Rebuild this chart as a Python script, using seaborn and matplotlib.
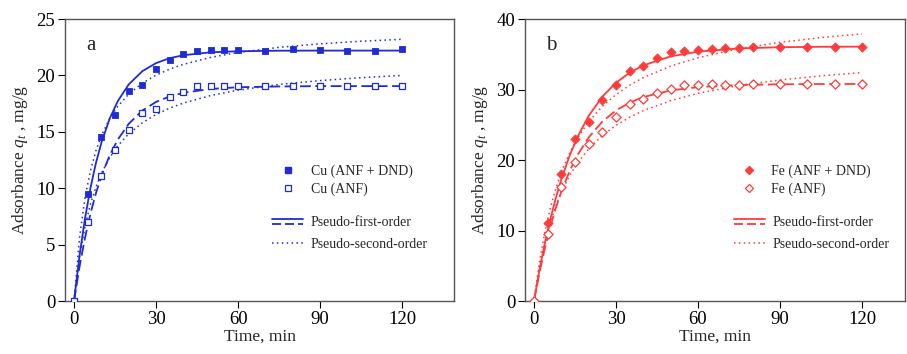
import numpy as np
import pandas as pd
import matplotlib
matplotlib.use("Agg")
import matplotlib.pyplot as plt
import seaborn as sns
from matplotlib.lines import Line2D
from matplotlib.legend_handler import HandlerBase

# ---------------- data ----------------
# experimental points, panel a (Cu)
time_a = [0, 5, 10, 15, 20, 25, 30, 35, 40, 45, 50, 55, 60, 70, 80, 90, 100, 110, 120]
cu_anf_dnd = [0, 9.46, 14.57, 16.49, 18.65, 19.12, 20.54, 21.40, 21.87, 22.13, 22.25,
              22.28, 22.28, 22.19, 22.34, 22.22, 22.16, 22.19, 22.31]
cu_anf = [0, 7.03, 11.11, 13.39, 15.16, 16.70, 16.99, 18.09, 18.53, 19.03, 19.03,
          19.06, 19.06, 19.06, 19.03, 19.06, 19.06, 19.06, 19.03]

# experimental points, panel b (Fe)
time_b = [0, 5, 10, 15, 20, 25, 30, 35, 40, 45, 50, 55, 60, 65, 70, 75, 80, 90, 100, 110, 120]
fe_anf_dnd = [0, 11.0, 18.06, 22.98, 25.34, 28.51, 30.69, 32.62, 33.29, 34.42, 35.27,
              35.46, 35.60, 35.74, 35.84, 35.93, 35.98, 36.08, 36.08, 36.08, 36.03]
fe_anf = [0, 9.5, 16.2, 19.76, 22.27, 23.97, 26.05, 27.90, 28.65, 29.55, 30.02,
          30.59, 30.64, 30.73, 30.69, 30.69, 30.78, 30.78, 30.78, 30.78, 30.78]

# fitted curves
time_fit = [0, 2, 4, 6, 8, 10, 13, 16, 20, 25, 30, 35, 40, 50, 60, 75, 90, 105, 120]
cu_dnd_pfo = [0, 4.02, 7.32, 10.02, 12.23, 14.03, 16.15, 17.72, 19.20, 20.38, 21.09,
              21.53, 21.79, 22.05, 22.14, 22.19, 22.20, 22.20, 22.20]
cu_anf_pfo = [0, 3.04, 5.60, 7.75, 9.55, 11.07, 12.90, 14.31, 15.71, 16.89, 17.65,
              18.14, 18.46, 18.80, 18.95, 19.02, 19.05, 19.05, 19.05]
cu_dnd_pso = [0, 5.62, 9.15, 11.56, 13.32, 14.66, 16.16, 17.26, 18.34, 19.32, 20.02,
              20.56, 20.98, 21.60, 22.03, 22.49, 22.80, 23.03, 23.20]
cu_anf_pso = [0, 3.91, 6.61, 8.60, 10.11, 11.31, 12.70, 13.76, 14.82, 15.80, 16.54,
              17.10, 17.55, 18.22, 18.69, 19.20, 19.54, 19.80, 20.00]
fe_dnd_pfo = [0, 4.40, 8.26, 11.66, 14.64, 17.26, 20.59, 23.34, 26.26, 28.99, 30.96,
              32.39, 33.42, 34.70, 35.37, 35.83, 36.00, 36.06, 36.08]
fe_anf_pfo = [0, 4.02, 7.52, 10.56, 13.21, 15.51, 18.40, 20.75, 23.20, 25.45, 27.03,
              28.14, 28.93, 29.87, 30.34, 30.64, 30.74, 30.78, 30.79]
fe_dnd_pso = [0, 5.59, 9.87, 13.25, 15.99, 18.24, 20.98, 23.15, 25.44, 27.62, 29.29,
              30.61, 31.69, 33.32, 34.51, 35.79, 36.69, 37.37, 37.89]
fe_anf_pso = [0, 4.70, 8.31, 11.17, 13.50, 15.43, 17.77, 19.64, 21.60, 23.48, 24.92,
              26.07, 27.00, 28.42, 29.45, 30.57, 31.35, 31.94, 32.40]

x_ticks = [0, 30, 60, 90, 120]
y_ticks_a = [0, 5, 10, 15, 20, 25]
y_ticks_b = [0, 10, 20, 30, 40]

# ---------------- style ----------------
sns.set_style("ticks")
plt.rcParams["font.family"] = ["Liberation Serif", "DejaVu Serif"]
plt.rcParams["mathtext.fontset"] = "custom"
plt.rcParams["mathtext.rm"] = "Liberation Serif"
plt.rcParams["mathtext.it"] = "Liberation Serif:italic"

BLUE = "#1f2bd6"
RED = "#ff3b3b"
SPINE = "#555555"


class HandlerStack(HandlerBase):
    """Draw two line handles stacked vertically (solid above dashed)."""
    def create_artists(self, legend, orig_handle, xdescent, ydescent,
                       width, height, fontsize, trans):
        artists = []
        ys = [height * 0.5 + height * 0.30, height * 0.5 - height * 0.28]
        for h, y in zip(orig_handle, ys):
            ln = Line2D([-xdescent, -xdescent + width], [y - ydescent, y - ydescent],
                        color=h.get_color(), linestyle=h.get_linestyle(),
                        linewidth=h.get_linewidth())
            if h.get_linestyle() == "--":
                ln.set_dashes((5, 2.2))
            ln.set_transform(trans)
            artists.append(ln)
        return artists


fig = plt.figure(figsize=(9.07, 3.54), dpi=100)
ax_a = fig.add_axes([0.0717, 0.1497, 0.4289, 0.7966])
ax_b = fig.add_axes([0.5788, 0.1497, 0.4190, 0.7966])


def draw_panel(ax, color, t_pts, y1, y2, marker, lab1, lab2,
               pfo1, pfo2, pso1, pso2, ylim, yticks, xlim, letter, ms):
    fit = pd.DataFrame({"t": time_fit, "pfo1": pfo1, "pfo2": pfo2,
                        "pso1": pso1, "pso2": pso2})
    pts = pd.DataFrame({"t": t_pts, "y1": y1, "y2": y2})
    lw = 1.3
    sns.lineplot(data=fit, x="t", y="pfo1", ax=ax, color=color, lw=lw,
                 estimator=None, sort=False, zorder=2)
    l2 = sns.lineplot(data=fit, x="t", y="pfo2", ax=ax, color=color, lw=lw,
                      estimator=None, sort=False, zorder=2).lines[-1]
    l2.set_dashes((6, 2.5))
    for col in ["pso1", "pso2"]:
        ln = sns.lineplot(data=fit, x="t", y=col, ax=ax, color=color, lw=1.1,
                          estimator=None, sort=False, zorder=2).lines[-1]
        ln.set_dashes((1, 2.2))
    sns.scatterplot(data=pts, x="t", y="y1", ax=ax, marker=marker, s=ms,
                    color=color, edgecolor=color, linewidth=0.6, zorder=3)
    sns.scatterplot(data=pts, x="t", y="y2", ax=ax, marker=marker, s=ms,
                    facecolor="white", edgecolor=color, linewidth=0.9, zorder=3)

    ax.set_xlim(*xlim)
    ax.set_ylim(*ylim)
    ax.set_xticks(x_ticks)
    ax.set_yticks(yticks)
    ax.tick_params(direction="out", length=5, width=0.8, colors="black",
                   labelsize=13.5, top=False, right=False, pad=2)
    for sp in ax.spines.values():
        sp.set_visible(True)
        sp.set_color(SPINE)
        sp.set_linewidth(1.0)
    ax.set_xlabel("Time, min", fontsize=12.5, labelpad=1)
    ax.set_ylabel("Adsorbance $q_t$ , mg/g", fontsize=12.5, labelpad=5)
    ax.text(0.055, 0.905, letter, transform=ax.transAxes, fontsize=15,
            ha="left", va="center")

    mh = [Line2D([], [], linestyle="none", marker=marker, color=color,
                 markerfacecolor=color, markersize=np.sqrt(ms) * 0.95),
          Line2D([], [], linestyle="none", marker=marker, color=color,
                 markerfacecolor="white", markersize=np.sqrt(ms) * 0.95,
                 markeredgewidth=0.9)]
    leg1 = ax.legend(mh, [lab1, lab2], loc="upper left",
                     bbox_to_anchor=(0.535 if letter == "a" else 0.55, 0.485),
                     frameon=False, fontsize=10, handlelength=2.2,
                     handletextpad=0.5, labelspacing=0.35, borderpad=0,
                     borderaxespad=0)
    ax.add_artist(leg1)
    solid = Line2D([], [], color=color, lw=lw, linestyle="-")
    dashed = Line2D([], [], color=color, lw=lw, linestyle="--")
    dotted = Line2D([], [], color=color, lw=1.1, linestyle=(0, (1, 2.2)))
    ax.legend([(solid, dashed), dotted],
              ["Pseudo-first-order", "Pseudo-second-order"],
              handler_map={tuple: HandlerStack()},
              loc="upper left",
              bbox_to_anchor=(0.532 if letter == "a" else 0.55, 0.30),
              frameon=False, fontsize=10, handlelength=2.25,
              handletextpad=0.55, labelspacing=0.6, borderpad=0,
              borderaxespad=0)


draw_panel(ax_a, BLUE, time_a, cu_anf_dnd, cu_anf, "s",
           "Cu (ANF + DND)", "Cu (ANF)",
           cu_dnd_pfo, cu_anf_pfo, cu_dnd_pso, cu_anf_pso,
           (0, 25), y_ticks_a, (-3.3, 139), "a", 22)
draw_panel(ax_b, RED, time_b, fe_anf_dnd, fe_anf, "D",
           "Fe (ANF + DND)", "Fe (ANF)",
           fe_dnd_pfo, fe_anf_pfo, fe_dnd_pso, fe_anf_pso,
           (0, 40), y_ticks_b, (-3.3, 135.7), "b", 22)

fig.savefig("out.png", dpi=100)
